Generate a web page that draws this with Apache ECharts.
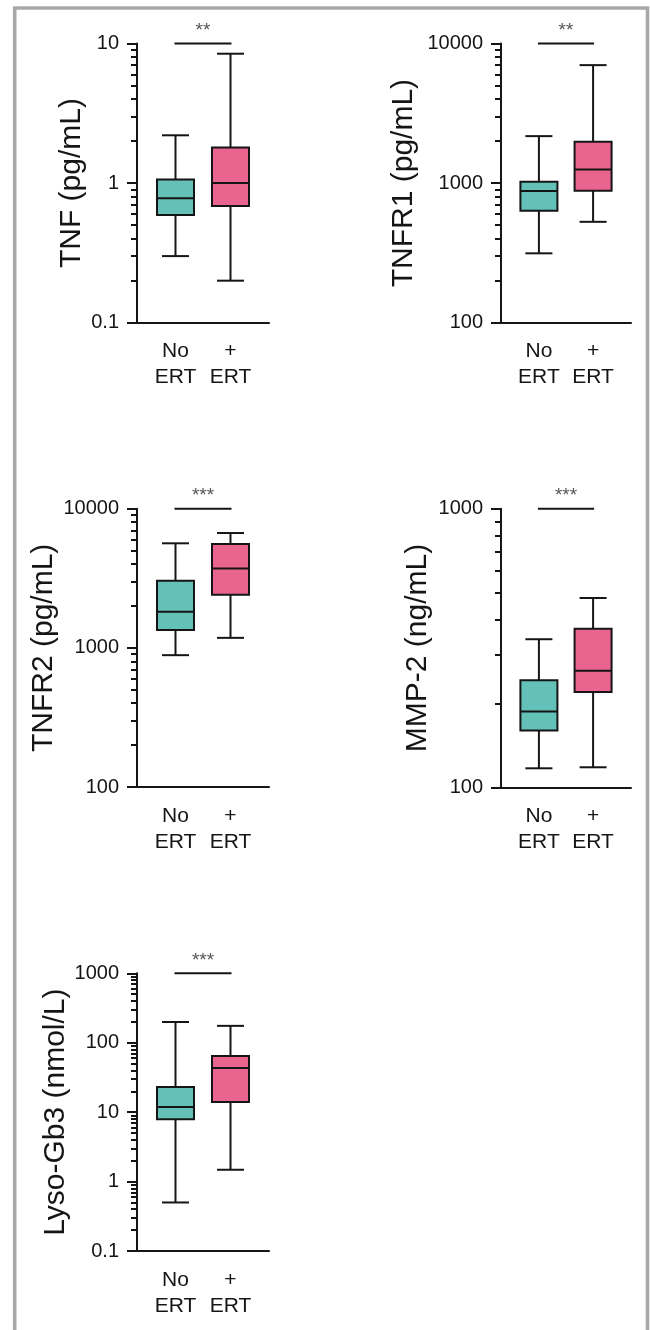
<!DOCTYPE html>
<html>
<head>
<meta charset="utf-8">
<script src="https://cdn.jsdelivr.net/npm/echarts@6/dist/echarts.min.js"></script>
<style>
  html, body { margin: 0; padding: 0; background: #ffffff; }
  #chart { width: 650px; height: 1330px; }
</style>
</head>
<body>
<div id="chart"></div>
<script>
// Groups on every x axis
const groups = ['No\nERT', '+\nERT'];

// Panel titles (y-axis names)
const titles = ['TNF (pg/mL)', 'TNFR1 (pg/mL)', 'TNFR2 (pg/mL)', 'MMP-2 (ng/mL)', 'Lyso-Gb3 (nmol/L)'];

// Five-number summaries per group: [min, Q1, median, Q3, max]
const tnf     = [[0.30, 0.59, 0.78, 1.06, 2.2],  [0.20, 0.685, 1.0, 1.8, 8.45]];
const tnfr1   = [[314, 634, 877, 1022, 2170],    [528, 881, 1253, 1976, 7000]];
const tnfr2   = [[886, 1346, 1815, 3034, 5640],  [1180, 2405, 3725, 5570, 6686]];
const mmp2    = [[117, 160, 187, 242, 340],      [118, 220, 262, 371, 478]];
const lysoGb3 = [[0.50, 7.9, 11.9, 23, 199],     [1.48, 14, 43.4, 64.6, 175]];

// Labelled (major) y ticks per panel
const tnfTicks   = [0.1, 1, 10];
const tnfr1Ticks = [100, 1000, 10000];
const tnfr2Ticks = [100, 1000, 10000];
const mmp2Ticks  = [100, 1000];
const lysoTicks  = [0.1, 1, 10, 100, 1000];

// Significance marks
const stars = ['**', '**', '***', '***', '***'];

const panelData  = [tnf, tnfr1, tnfr2, mmp2, lysoGb3];
const panelTicks = [tnfTicks, tnfr1Ticks, tnfr2Ticks, mmp2Ticks, lysoTicks];

// Plot-area placement of each panel (px)
const layout = [
  { left: 137, top: 43.5,  width: 132, height: 279.2, nameGap: 50 },
  { left: 501, top: 43.5,  width: 130, height: 279.2, nameGap: 82 },
  { left: 137, top: 508.7, width: 132, height: 278.3, nameGap: 78 },
  { left: 501, top: 508.7, width: 130, height: 278.6, nameGap: 68 },
  { left: 137, top: 973.3, width: 132, height: 277.7, nameGap: 64 }
];

const INK = '#151515';
const FONT = '"Liberation Sans", Arial, Helvetica, sans-serif';
const FILLS = ['#63c1b8', '#e9648f'];
const BOX_W = 37;
const CAP_W = 27;

// Minor ticks at 2..9 of every decade between the major ticks
function minorTicks(majors) {
  const out = [];
  for (let d = 0; d < majors.length - 1; d++) {
    for (let k = 2; k <= 9; k++) out.push(+(majors[d] * k).toPrecision(6));
  }
  return out;
}

function fmt(v) { return String(+Number(v).toPrecision(6)); }

function line(x1, y1, x2, y2, w) {
  return { type: 'line', shape: { x1, y1, x2, y2 }, style: { stroke: INK, lineWidth: w || 2 } };
}

function boxItem(params, api) {
  const i = api.value(0);
  const lo = api.value(1), q1 = api.value(2), md = api.value(3), q3 = api.value(4), hi = api.value(5);
  const x = api.coord([i, md])[0];
  const y = v => api.coord([i, v])[1];
  const hb = BOX_W / 2, hc = CAP_W / 2;
  return {
    type: 'group',
    children: [
      line(x, y(hi), x, y(q3)),
      line(x, y(q1), x, y(lo)),
      line(x - hc, y(hi), x + hc, y(hi)),
      line(x - hc, y(lo), x + hc, y(lo)),
      {
        type: 'rect',
        shape: { x: x - hb, y: y(q3), width: BOX_W, height: y(q1) - y(q3) },
        style: { fill: FILLS[i], stroke: INK, lineWidth: 2 }
      },
      line(x - hb, y(md), x + hb, y(md))
    ]
  };
}

const grid = [], xAxis = [], yAxis = [], series = [];

panelData.forEach((groupsData, p) => {
  const L = layout[p];
  const majors = panelTicks[p];
  const yMin = majors[0], yMax = majors[majors.length - 1];

  grid.push({ left: L.left, top: L.top, width: L.width, height: L.height, containLabel: false, outerBoundsMode: 'none' });

  xAxis.push({
    gridIndex: p, type: 'value', min: -0.7, max: 1.7, position: 'bottom',
    axisLine: { show: true, onZero: false, lineStyle: { color: INK, width: 2 } },
    axisTick: { show: false },
    splitLine: { show: false },
    axisLabel: {
      customValues: [0, 1],
      formatter: v => groups[Math.round(v)],
      color: INK, fontSize: 21, lineHeight: 26, margin: 16, fontFamily: FONT
    }
  });

  // labelled axis with long ticks
  yAxis.push({
    gridIndex: p, type: 'log', logBase: 10, min: yMin, max: yMax, position: 'left', offset: 0,
    name: titles[p], nameLocation: 'middle', nameGap: L.nameGap,
    nameTextStyle: { color: INK, fontSize: 30, fontFamily: FONT },
    axisLine: { show: true, onZero: false, lineStyle: { color: INK, width: 2 } },
    axisTick: { show: true, length: 10, customValues: majors, lineStyle: { color: INK, width: 2 } },
    axisLabel: { customValues: majors, formatter: fmt, color: INK, fontSize: 20, margin: 18, fontFamily: FONT },
    splitLine: { show: false }
  });
  // short minor ticks on the same left edge
  yAxis.push({
    gridIndex: p, type: 'log', logBase: 10, min: yMin, max: yMax, position: 'left', offset: 0,
    axisLine: { show: false, onZero: false },
    axisTick: { show: true, length: 6, customValues: minorTicks(majors), lineStyle: { color: INK, width: 2 } },
    axisLabel: { show: false },
    splitLine: { show: false }
  });

  series.push({
    type: 'custom',
    xAxisIndex: p, yAxisIndex: 2 * p,
    renderItem: boxItem,
    encode: { x: 0, y: [1, 2, 3, 4, 5] },
    data: groupsData.map((v, i) => [i].concat(v)),
    silent: true
  });

  // significance bar between the two groups with its star label
  series.push({
    type: 'custom',
    xAxisIndex: p, yAxisIndex: 2 * p,
    renderItem: (params, api) => {
      const a = api.coord([0, yMax]);
      const b = api.coord([1, yMax]);
      return {
        type: 'group',
        children: [
          line(a[0] - 1, a[1], b[0] + 1, b[1]),
          {
            type: 'text',
            style: {
              text: stars[p], x: (a[0] + b[0]) / 2, y: a[1] - 3,
              align: 'center', verticalAlign: 'bottom',
              fill: '#555555', fontSize: 19, fontFamily: FONT
            }
          }
        ]
      };
    },
    encode: { x: 0, y: 1 },
    data: [[0.5, yMax]],
    silent: true
  });
});

const chart = echarts.init(document.getElementById('chart'), null, { renderer: 'canvas' });
chart.setOption({
  animation: false,
  backgroundColor: '#ffffff',
  grid, xAxis, yAxis, series,
  graphic: [{
    type: 'polyline',
    shape: { points: [[14.7, 1340], [14.7, 8], [647.5, 8], [647.5, 1340]] },
    style: { stroke: '#a9a9a9', lineWidth: 3.6, fill: null },
    silent: true
  }]
});
</script>
</body>
</html>
